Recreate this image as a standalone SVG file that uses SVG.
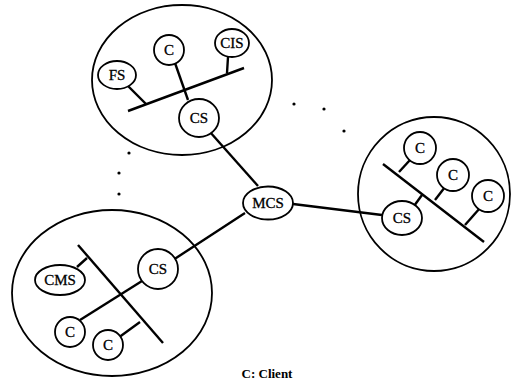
<svg xmlns="http://www.w3.org/2000/svg" width="519" height="382" viewBox="0 0 519 382">
<style>
.grp{fill:none;stroke:#000;stroke-width:1.8}
.nd{fill:#fff;stroke:#000;stroke-width:1.8}
.ln{stroke:#000;stroke-width:2.4;fill:none}
.t{font-family:"Liberation Serif","DejaVu Serif","Times New Roman",serif;font-size:15px;text-anchor:middle;dominant-baseline:central;fill:#000;stroke:#000;stroke-width:0.3}
.dot{fill:#000}
.lbl{font-family:"Liberation Serif","DejaVu Serif","Times New Roman",serif;font-size:13px;font-weight:bold;text-anchor:middle;fill:#000}
</style>
<rect width="519" height="382" fill="#fff"/>
<g id="groups">
<ellipse class="grp" cx="182" cy="80" rx="90" ry="75"/>
<ellipse class="grp" cx="434" cy="194" rx="76" ry="77"/>
<ellipse class="grp" cx="112" cy="293" rx="100" ry="83"/>
</g>
<g id="connectors">
<line class="ln" x1="210" y1="132" x2="258" y2="186"/>
<line class="ln" x1="245" y1="213" x2="173" y2="260"/>
<line class="ln" x1="293" y1="204" x2="382" y2="215"/>
<line class="ln" x1="128" y1="111" x2="244" y2="68"/>
<line class="ln" x1="128" y1="86" x2="146" y2="104"/>
<line class="ln" x1="175" y1="63" x2="188" y2="100"/>
<line class="ln" x1="228" y1="57" x2="227" y2="73"/>
<line class="ln" x1="383" y1="164" x2="484" y2="242"/>
<line class="ln" x1="410" y1="160" x2="399" y2="172"/>
<line class="ln" x1="445" y1="187" x2="435" y2="200"/>
<line class="ln" x1="480" y1="208" x2="465" y2="225"/>
<line class="ln" x1="414" y1="206" x2="422" y2="195"/>
<line class="ln" x1="78" y1="245" x2="163" y2="343"/>
<line class="ln" x1="77" y1="267" x2="87" y2="258"/>
<line class="ln" x1="142" y1="281" x2="80" y2="320"/>
<line class="ln" x1="118" y1="338" x2="140" y2="322"/>
</g>
<g id="dots">
<circle class="dot" cx="294" cy="104" r="1.6"/>
<circle class="dot" cx="324" cy="109" r="1.6"/>
<circle class="dot" cx="344" cy="131" r="1.6"/>
<circle class="dot" cx="129" cy="153" r="1.6"/>
<circle class="dot" cx="119" cy="173" r="1.6"/>
<circle class="dot" cx="119" cy="194" r="1.6"/>
</g>
<g id="n-fs"><ellipse class="nd" cx="117" cy="75" rx="19" ry="14"/><text class="t" x="117" y="75">FS</text></g>
<g id="n-c-top"><circle class="nd" cx="169" cy="50" r="15"/><text class="t" x="169" y="50">C</text></g>
<g id="n-cis"><ellipse class="nd" cx="232" cy="43" rx="17" ry="14"/><text class="t" x="232" y="43">CIS</text></g>
<g id="n-cs-top"><ellipse class="nd" cx="199" cy="118" rx="20" ry="19"/><text class="t" x="199" y="118">CS</text></g>
<g id="n-mcs"><ellipse class="nd" cx="268" cy="203" rx="25" ry="16.5"/><text class="t" x="268" y="203">MCS</text></g>
<g id="n-cs-right"><ellipse class="nd" cx="402" cy="218" rx="20" ry="17"/><text class="t" x="402" y="218">CS</text></g>
<g id="n-c-r1"><circle class="nd" cx="420" cy="148" r="16"/><text class="t" x="420" y="148">C</text></g>
<g id="n-c-r2"><circle class="nd" cx="453" cy="175" r="16"/><text class="t" x="453" y="175">C</text></g>
<g id="n-c-r3"><circle class="nd" cx="488" cy="196" r="16"/><text class="t" x="488" y="196">C</text></g>
<g id="n-cs-left"><circle class="nd" cx="158" cy="269" r="20"/><text class="t" x="158" y="269">CS</text></g>
<g id="n-cms"><ellipse class="nd" cx="60" cy="280" rx="25" ry="15"/><text class="t" x="60" y="280">CMS</text></g>
<g id="n-c-l1"><circle class="nd" cx="70" cy="332" r="15"/><text class="t" x="70" y="332">C</text></g>
<g id="n-c-l2"><circle class="nd" cx="108" cy="345" r="15"/><text class="t" x="108" y="345">C</text></g>
<text class="lbl" x="267" y="378">C: Client</text>
</svg>
